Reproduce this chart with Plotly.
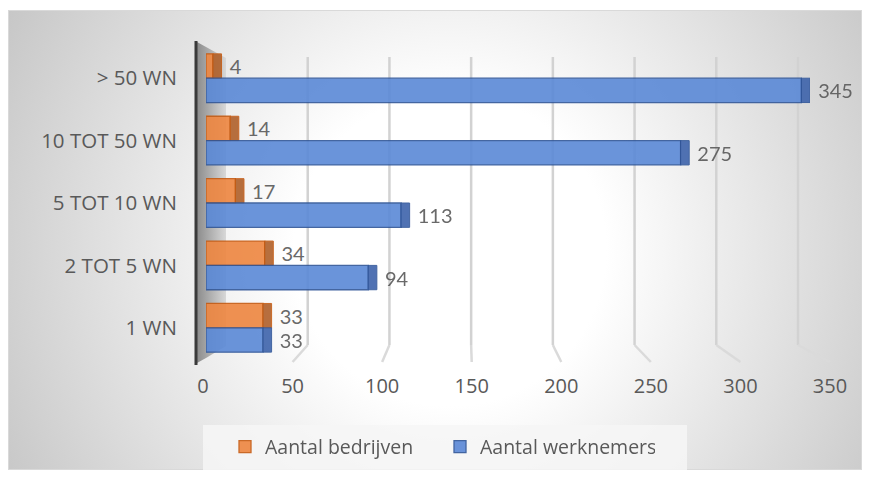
import base64
import plotly.graph_objects as go

# ---- data -------------------------------------------------------------
categories = ["> 50 WN", "10 TOT 50 WN", "5 TOT 10 WN", "2 TOT 5 WN", "1 WN"]
bedrijven = [4, 14, 17, 34, 33]
werknemers = [345, 275, 113, 94, 33]
x_ticks = [0, 50, 100, 150, 200, 250, 300, 350]

series_names = ["Aantal bedrijven", "Aantal werknemers"]

# ---- canvas geometry (pixels) ----------------------------------------
W, H = 870, 480
L, R, T, B = 203, 40, 47, 121
PW, PH = W - L - R, H - T - B
X_MAX = x_ticks[-1]
SIDE_DEPTH = 5  # thickness of the bar end cap, in axis units


def fx(p):
    return (p - L) / PW


def fy(p):
    return 1 - (p - T) / PH


# floor front edge and back wall for the pseudo-3D grid
def front(v):
    return 203 + v * (830 - 203) / X_MAX


def back(v):
    return 226 + v * (798 - 226) / X_MAX


FONT = "'Open Sans', sans-serif"
LABEL_FONT = "Lato, 'Open Sans', sans-serif"
TXT = "#595959"

# ---- background: radial gradient panel + left side wall ------------------
svg = f"""<svg xmlns="http://www.w3.org/2000/svg" width="{W}" height="{H}">
<defs>
<radialGradient id="g" gradientUnits="userSpaceOnUse" cx="450" cy="250" r="520">
<stop offset="0" stop-color="#ffffff"/>
<stop offset="0.3" stop-color="#ffffff"/>
<stop offset="1" stop-color="#c4c4c4"/>
</radialGradient>
<linearGradient id="w" x1="0" y1="0" x2="1" y2="0">
<stop offset="0" stop-color="#8c8c8c"/>
<stop offset="1" stop-color="#d8d8d8"/>
</linearGradient>
</defs>
<rect width="{W}" height="{H}" fill="#ffffff"/>
<rect x="8.5" y="10.5" width="853" height="459" fill="url(#g)" stroke="#d9d9d9"/>
<polygon points="197,42 226,58 226,346 206,358 197,363" fill="url(#w)"/>
<line x1="196" y1="41" x2="196" y2="365" stroke="#3a3a3a" stroke-width="3"/>
</svg>"""
bg_uri = "data:image/svg+xml;base64," + base64.b64encode(svg.encode()).decode()

# ---- bars: front face + darker end cap, labels sit on the cap -----------
styles = [
    dict(face="#EE8640", edge="#C55A11", cap="#B0602A", group="a"),
    dict(face="#5A88D6", edge="#2F5597", cap="#3D63AB", group="b"),
]
fig = go.Figure()
for name, vals, st in zip(series_names, [bedrijven, werknemers], styles):
    fig.add_trace(go.Bar(
        y=categories, x=vals, orientation="h", name=name,
        offsetgroup=st["group"], opacity=0.9,
        marker=dict(color=st["face"], line=dict(color=st["edge"], width=1.3)),
        hoverinfo="skip",
    ))
    fig.add_trace(go.Bar(
        y=categories, x=[SIDE_DEPTH] * len(vals), base=vals, orientation="h",
        name=name, showlegend=False, offsetgroup=st["group"], opacity=0.9,
        marker=dict(color=st["cap"], line=dict(color=st["edge"], width=1)),
        customdata=vals, texttemplate="\u00a0%{customdata}",
        textposition="outside", constraintext="none",
        textfont=dict(size=20, color=TXT, family=LABEL_FONT), cliponaxis=False,
        hoverinfo="skip",
    ))

# invisible carrier so the tick-label axis is drawn
fig.add_trace(go.Scatter(
    x=x_ticks, y=[categories[0]] * len(x_ticks), xaxis="x2", yaxis="y",
    mode="markers", marker=dict(opacity=0), showlegend=False, hoverinfo="skip",
))

# ---- grid: back-wall verticals with floor feet ------------------------------
shapes = []
for v in x_ticks[1:]:
    xb, xf = fx(back(v)), fx(front(v))
    shapes.append(dict(type="line", xref="paper", yref="paper", layer="below",
                       x0=xb, x1=xb, y0=fy(57), y1=fy(345),
                       line=dict(color="#D2D2D2", width=2.5)))
    shapes.append(dict(type="line", xref="paper", yref="paper", layer="below",
                       x0=xb, x1=xf, y0=fy(345), y1=fy(362),
                       line=dict(color="#DADADA", width=2.5)))
# legend panel
shapes.append(dict(type="rect", xref="paper", yref="paper", layer="below",
                   x0=fx(203), x1=fx(687), y0=fy(425), y1=fy(470),
                   fillcolor="rgba(246,246,246,0.85)", line=dict(width=0)))

fig.update_layout(
    width=W, height=H,
    margin=dict(l=L, r=R, t=T, b=B, pad=0),
    paper_bgcolor="#ffffff", plot_bgcolor="rgba(0,0,0,0)",
    font=dict(family=FONT, size=20, color=TXT),
    barmode="group", bargap=0.22, bargroupgap=0.0,
    showlegend=True,
    legend=dict(orientation="h", x=fx(225), xanchor="left",
                y=fy(447), yanchor="middle", bgcolor="rgba(0,0,0,0)",
                font=dict(size=19.5, color=TXT, family=FONT),
                entrywidth=170, traceorder="normal"),
    images=[dict(source=bg_uri, xref="paper", yref="paper",
                 x=fx(0), y=fy(0), sizex=W / PW, sizey=H / PH,
                 xanchor="left", yanchor="top", sizing="stretch",
                 layer="below")],
    shapes=shapes,
    xaxis=dict(domain=[fx(206), fx(810)], range=[0, X_MAX],
               showgrid=False, zeroline=False, showticklabels=False,
               showline=False, fixedrange=True),
    xaxis2=dict(domain=[0, 1], range=[0, X_MAX], anchor="y",
                tickvals=x_ticks, ticktext=[str(t) for t in x_ticks],
                ticks="outside", ticklen=9, tickcolor="rgba(0,0,0,0)",
                showgrid=False, zeroline=False, showline=False,
                tickfont=dict(size=20, color=TXT, family=FONT)),
    yaxis=dict(autorange="reversed", showgrid=False, zeroline=False,
               showline=False, ticks="outside", ticklen=24,
               tickcolor="rgba(0,0,0,0)",
               tickfont=dict(size=20.5, color=TXT, family=FONT)),
)

fig.write_html("out.html")
